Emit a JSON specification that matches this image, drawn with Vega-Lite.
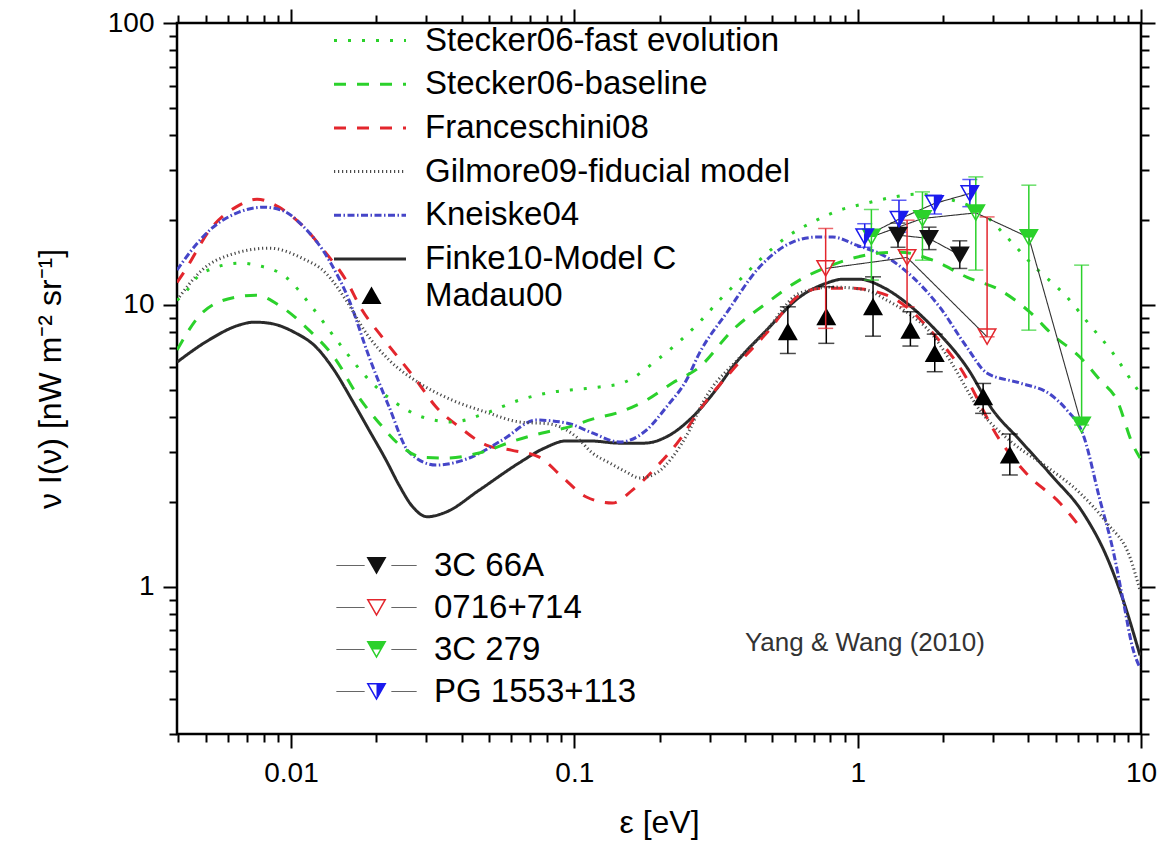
{
"$schema":"https://vega.github.io/schema/vega-lite/v6.json",
"width":964,"height":711,
"autosize":{"type":"none"},
"padding":{"left":177,"top":23,"right":28,"bottom":111},
"background":"white",
"config":{
 "view":{"stroke":"black","strokeWidth":2.5},
 "font":"Liberation Sans",
 "axis":{"grid":false,"domain":false,"tickColor":"black","tickWidth":2,"labelFont":"Liberation Sans","labelColor":"black","titleFont":"Liberation Sans","titleColor":"black","titleFontWeight":"normal","labelFlush":false,"labelOverlap":false,"labelBound":false},
 "legend":{"labelFont":"Liberation Sans","labelColor":"black","labelLimit":0}
},
"datasets":{
 "models":[
 {"m":"Finke10-Model C","E":0.00396,"v":6.26},{"m":"Finke10-Model C","E":0.00513,"v":7.5},{"m":"Finke10-Model C","E":0.00655,"v":8.47},{"m":"Finke10-Model C","E":0.0074,"v":8.68},{"m":"Finke10-Model C","E":0.00836,"v":8.61},{"m":"Finke10-Model C","E":0.01025,"v":8.0},{"m":"Finke10-Model C","E":0.01226,"v":7.08},{"m":"Finke10-Model C","E":0.01419,"v":5.87},{"m":"Finke10-Model C","E":0.01642,"v":4.59},{"m":"Finke10-Model C","E":0.01887,"v":3.59},{"m":"Finke10-Model C","E":0.02166,"v":2.81},{"m":"Finke10-Model C","E":0.02408,"v":2.29},{"m":"Finke10-Model C","E":0.02677,"v":1.93},{"m":"Finke10-Model C","E":0.03025,"v":1.77},{"m":"Finke10-Model C","E":0.03531,"v":1.84},{"m":"Finke10-Model C","E":0.04616,"v":2.2},{"m":"Finke10-Model C","E":0.06393,"v":2.75},{"m":"Finke10-Model C","E":0.07834,"v":3.1},{"m":"Finke10-Model C","E":0.09372,"v":3.29},{"m":"Finke10-Model C","E":0.113,"v":3.29},{"m":"Finke10-Model C","E":0.1442,"v":3.23},{"m":"Finke10-Model C","E":0.1768,"v":3.23},{"m":"Finke10-Model C","E":0.2114,"v":3.4},{"m":"Finke10-Model C","E":0.2612,"v":4.0},{"m":"Finke10-Model C","E":0.3254,"v":5.19},{"m":"Finke10-Model C","E":0.3616,"v":6.01},{"m":"Finke10-Model C","E":0.477,"v":8.13},{"m":"Finke10-Model C","E":0.6237,"v":10.65},{"m":"Finke10-Model C","E":0.7772,"v":11.94},{"m":"Finke10-Model C","E":0.885,"v":12.33},{"m":"Finke10-Model C","E":1.016,"v":12.33},{"m":"Finke10-Model C","E":1.225,"v":11.56},{"m":"Finke10-Model C","E":1.49,"v":10.14},{"m":"Finke10-Model C","E":1.841,"v":8.34},{"m":"Finke10-Model C","E":2.427,"v":6.01},{"m":"Finke10-Model C","E":2.999,"v":4.23},{"m":"Finke10-Model C","E":3.736,"v":3.31},{"m":"Finke10-Model C","E":4.887,"v":2.45},{"m":"Finke10-Model C","E":6.237,"v":1.83},{"m":"Finke10-Model C","E":7.585,"v":1.27},{"m":"Finke10-Model C","E":8.636,"v":0.9},{"m":"Finke10-Model C","E":9.92,"v":0.57},
 {"m":"Franceschini08","E":0.00396,"v":12.0},{"m":"Franceschini08","E":0.00419,"v":13.06},{"m":"Franceschini08","E":0.00526,"v":18.86},{"m":"Franceschini08","E":0.00639,"v":22.21},{"m":"Franceschini08","E":0.00759,"v":23.7},{"m":"Franceschini08","E":0.00907,"v":22.21},{"m":"Franceschini08","E":0.01094,"v":19.17},{"m":"Franceschini08","E":0.01329,"v":15.26},{"m":"Franceschini08","E":0.01564,"v":12.24},{"m":"Franceschini08","E":0.01782,"v":9.58},{"m":"Franceschini08","E":0.02098,"v":7.68},{"m":"Franceschini08","E":0.02765,"v":5.41},{"m":"Franceschini08","E":0.03253,"v":4.34},{"m":"Franceschini08","E":0.03924,"v":3.69},{"m":"Franceschini08","E":0.04887,"v":3.18},{"m":"Franceschini08","E":0.05989,"v":3.05},{"m":"Franceschini08","E":0.07521,"v":2.88},{"m":"Franceschini08","E":0.09071,"v":2.45},{"m":"Franceschini08","E":0.1103,"v":2.08},{"m":"Franceschini08","E":0.1362,"v":1.98},{"m":"Franceschini08","E":0.1603,"v":2.2},{"m":"Franceschini08","E":0.1949,"v":2.66},{"m":"Franceschini08","E":0.235,"v":3.31},{"m":"Franceschini08","E":0.2764,"v":4.23},{"m":"Franceschini08","E":0.3616,"v":5.87},{"m":"Franceschini08","E":0.477,"v":7.94},{"m":"Franceschini08","E":0.6237,"v":10.82},{"m":"Franceschini08","E":0.7521,"v":11.46},{"m":"Franceschini08","E":0.937,"v":11.46},{"m":"Franceschini08","E":1.266,"v":10.82},{"m":"Franceschini08","E":1.49,"v":9.81},{"m":"Franceschini08","E":1.841,"v":7.94},{"m":"Franceschini08","E":2.293,"v":6.01},{"m":"Franceschini08","E":3.176,"v":3.31},{"m":"Franceschini08","E":3.955,"v":2.51},{"m":"Franceschini08","E":5.173,"v":1.98},{"m":"Franceschini08","E":6.087,"v":1.63},
 {"m":"Kneiske04","E":0.00396,"v":13.28},{"m":"Kneiske04","E":0.00412,"v":14.06},{"m":"Kneiske04","E":0.00526,"v":18.71},{"m":"Kneiske04","E":0.00655,"v":21.32},{"m":"Kneiske04","E":0.00803,"v":22.21},{"m":"Kneiske04","E":0.00945,"v":21.49},{"m":"Kneiske04","E":0.01094,"v":19.17},{"m":"Kneiske04","E":0.01363,"v":14.4},{"m":"Kneiske04","E":0.01603,"v":10.39},{"m":"Kneiske04","E":0.01887,"v":6.53},{"m":"Kneiske04","E":0.0222,"v":4.34},{"m":"Kneiske04","E":0.02612,"v":3.0},{"m":"Kneiske04","E":0.03253,"v":2.7},{"m":"Kneiske04","E":0.04256,"v":2.86},{"m":"Kneiske04","E":0.05566,"v":3.31},{"m":"Kneiske04","E":0.07339,"v":3.9},{"m":"Kneiske04","E":0.09372,"v":3.81},{"m":"Kneiske04","E":0.1158,"v":3.51},{"m":"Kneiske04","E":0.1442,"v":3.26},{"m":"Kneiske04","E":0.1796,"v":3.59},{"m":"Kneiske04","E":0.2114,"v":4.34},{"m":"Kneiske04","E":0.2488,"v":5.41},{"m":"Kneiske04","E":0.2764,"v":6.74},{"m":"Kneiske04","E":0.3444,"v":9.35},{"m":"Kneiske04","E":0.4504,"v":13.61},{"m":"Kneiske04","E":0.5892,"v":16.69},{"m":"Kneiske04","E":0.7164,"v":17.39},{"m":"Kneiske04","E":0.816,"v":17.39},{"m":"Kneiske04","E":0.992,"v":16.28},{"m":"Kneiske04","E":1.266,"v":14.76},{"m":"Kneiske04","E":1.564,"v":12.54},{"m":"Kneiske04","E":1.949,"v":9.81},{"m":"Kneiske04","E":2.427,"v":7.08},{"m":"Kneiske04","E":2.856,"v":5.73},{"m":"Kneiske04","E":3.736,"v":5.28},{"m":"Kneiske04","E":4.77,"v":4.82},{"m":"Kneiske04","E":5.476,"v":4.23},{"m":"Kneiske04","E":6.237,"v":3.48},{"m":"Kneiske04","E":7.164,"v":2.03},{"m":"Kneiske04","E":7.962,"v":1.35},{"m":"Kneiske04","E":8.636,"v":0.9},{"m":"Kneiske04","E":9.37,"v":0.6},{"m":"Kneiske04","E":9.92,"v":0.515},
 {"m":"Gilmore09-fiducial model","E":0.00396,"v":10.39},{"m":"Gilmore09-fiducial model","E":0.00485,"v":13.28},{"m":"Gilmore09-fiducial model","E":0.00639,"v":15.26},{"m":"Gilmore09-fiducial model","E":0.00836,"v":15.89},{"m":"Gilmore09-fiducial model","E":0.01094,"v":14.64},{"m":"Gilmore09-fiducial model","E":0.01329,"v":12.95},{"m":"Gilmore09-fiducial model","E":0.01564,"v":10.39},{"m":"Gilmore09-fiducial model","E":0.01841,"v":7.94},{"m":"Gilmore09-fiducial model","E":0.0222,"v":6.37},{"m":"Gilmore09-fiducial model","E":0.02833,"v":5.28},{"m":"Gilmore09-fiducial model","E":0.03706,"v":4.59},{"m":"Gilmore09-fiducial model","E":0.04887,"v":4.16},{"m":"Gilmore09-fiducial model","E":0.06393,"v":3.84},{"m":"Gilmore09-fiducial model","E":0.0816,"v":3.78},{"m":"Gilmore09-fiducial model","E":0.1016,"v":3.4},{"m":"Gilmore09-fiducial model","E":0.1158,"v":2.98},{"m":"Gilmore09-fiducial model","E":0.1329,"v":2.75},{"m":"Gilmore09-fiducial model","E":0.1527,"v":2.55},{"m":"Gilmore09-fiducial model","E":0.1697,"v":2.43},{"m":"Gilmore09-fiducial model","E":0.1949,"v":2.53},{"m":"Gilmore09-fiducial model","E":0.222,"v":2.88},{"m":"Gilmore09-fiducial model","E":0.2549,"v":3.59},{"m":"Gilmore09-fiducial model","E":0.2833,"v":4.48},{"m":"Gilmore09-fiducial model","E":0.3074,"v":5.11},{"m":"Gilmore09-fiducial model","E":0.3616,"v":6.11},{"m":"Gilmore09-fiducial model","E":0.477,"v":8.13},{"m":"Gilmore09-fiducial model","E":0.6237,"v":11.0},{"m":"Gilmore09-fiducial model","E":0.816,"v":11.56},{"m":"Gilmore09-fiducial model","E":1.076,"v":11.28},{"m":"Gilmore09-fiducial model","E":1.266,"v":10.39},{"m":"Gilmore09-fiducial model","E":1.49,"v":9.42},{"m":"Gilmore09-fiducial model","E":1.841,"v":7.81},{"m":"Gilmore09-fiducial model","E":2.114,"v":6.37},{"m":"Gilmore09-fiducial model","E":2.698,"v":4.23},{"m":"Gilmore09-fiducial model","E":3.529,"v":3.23},{"m":"Gilmore09-fiducial model","E":4.655,"v":2.66},{"m":"Gilmore09-fiducial model","E":6.087,"v":2.15},{"m":"Gilmore09-fiducial model","E":7.585,"v":1.68},{"m":"Gilmore09-fiducial model","E":9.145,"v":1.27},{"m":"Gilmore09-fiducial model","E":9.92,"v":0.97},
 {"m":"Stecker06-baseline","E":0.00396,"v":6.91},{"m":"Stecker06-baseline","E":0.00409,"v":7.31},{"m":"Stecker06-baseline","E":0.00485,"v":9.35},{"m":"Stecker06-baseline","E":0.00639,"v":10.65},{"m":"Stecker06-baseline","E":0.00752,"v":10.82},{"m":"Stecker06-baseline","E":0.00929,"v":9.81},{"m":"Stecker06-baseline","E":0.01158,"v":8.13},{"m":"Stecker06-baseline","E":0.01443,"v":6.37},{"m":"Stecker06-baseline","E":0.01697,"v":4.86},{"m":"Stecker06-baseline","E":0.02046,"v":3.81},{"m":"Stecker06-baseline","E":0.02468,"v":3.13},{"m":"Stecker06-baseline","E":0.02904,"v":2.88},{"m":"Stecker06-baseline","E":0.03531,"v":2.86},{"m":"Stecker06-baseline","E":0.04616,"v":2.98},{"m":"Stecker06-baseline","E":0.06237,"v":3.31},{"m":"Stecker06-baseline","E":0.07707,"v":3.51},{"m":"Stecker06-baseline","E":0.09601,"v":3.69},{"m":"Stecker06-baseline","E":0.1158,"v":3.93},{"m":"Stecker06-baseline","E":0.1442,"v":4.16},{"m":"Stecker06-baseline","E":0.1796,"v":4.59},{"m":"Stecker06-baseline","E":0.222,"v":5.28},{"m":"Stecker06-baseline","E":0.2764,"v":6.01},{"m":"Stecker06-baseline","E":0.3616,"v":8.13},{"m":"Stecker06-baseline","E":0.477,"v":10.14},{"m":"Stecker06-baseline","E":0.6237,"v":12.24},{"m":"Stecker06-baseline","E":0.7772,"v":13.61},{"m":"Stecker06-baseline","E":0.9601,"v":14.64},{"m":"Stecker06-baseline","E":1.196,"v":15.26},{"m":"Stecker06-baseline","E":1.407,"v":15.38},{"m":"Stecker06-baseline","E":1.841,"v":14.4},{"m":"Stecker06-baseline","E":2.427,"v":12.54},{"m":"Stecker06-baseline","E":3.176,"v":11.28},{"m":"Stecker06-baseline","E":4.053,"v":9.42},{"m":"Stecker06-baseline","E":4.887,"v":7.81},{"m":"Stecker06-baseline","E":6.087,"v":6.53},{"m":"Stecker06-baseline","E":7.164,"v":5.41},{"m":"Stecker06-baseline","E":8.226,"v":4.59},{"m":"Stecker06-baseline","E":9.37,"v":3.18},{"m":"Stecker06-baseline","E":9.92,"v":2.86},
 {"m":"Stecker06-fast evolution","E":0.00396,"v":10.39},{"m":"Stecker06-fast evolution","E":0.00409,"v":10.65},{"m":"Stecker06-fast evolution","E":0.00485,"v":12.95},{"m":"Stecker06-fast evolution","E":0.00666,"v":14.06},{"m":"Stecker06-fast evolution","E":0.00752,"v":13.83},{"m":"Stecker06-fast evolution","E":0.0096,"v":12.54},{"m":"Stecker06-fast evolution","E":0.01187,"v":9.81},{"m":"Stecker06-fast evolution","E":0.01478,"v":7.31},{"m":"Stecker06-fast evolution","E":0.01887,"v":5.41},{"m":"Stecker06-fast evolution","E":0.0235,"v":4.48},{"m":"Stecker06-fast evolution","E":0.02904,"v":4.0},{"m":"Stecker06-fast evolution","E":0.03706,"v":3.84},{"m":"Stecker06-fast evolution","E":0.04887,"v":4.13},{"m":"Stecker06-fast evolution","E":0.06393,"v":4.59},{"m":"Stecker06-fast evolution","E":0.08362,"v":4.9},{"m":"Stecker06-fast evolution","E":0.1041,"v":5.02},{"m":"Stecker06-fast evolution","E":0.1226,"v":5.11},{"m":"Stecker06-fast evolution","E":0.1478,"v":5.28},{"m":"Stecker06-fast evolution","E":0.1997,"v":6.47},{"m":"Stecker06-fast evolution","E":0.2764,"v":8.68},{"m":"Stecker06-fast evolution","E":0.3254,"v":10.39},{"m":"Stecker06-fast evolution","E":0.3829,"v":12.24},{"m":"Stecker06-fast evolution","E":0.4504,"v":14.4},{"m":"Stecker06-fast evolution","E":0.5613,"v":17.39},{"m":"Stecker06-fast evolution","E":0.7164,"v":19.97},{"m":"Stecker06-fast evolution","E":0.8638,"v":21.67},{"m":"Stecker06-fast evolution","E":1.076,"v":22.94},{"m":"Stecker06-fast evolution","E":1.329,"v":24.09},{"m":"Stecker06-fast evolution","E":1.616,"v":24.7},{"m":"Stecker06-fast evolution","E":2.166,"v":23.51},{"m":"Stecker06-fast evolution","E":2.765,"v":21.14},{"m":"Stecker06-fast evolution","E":3.361,"v":17.39},{"m":"Stecker06-fast evolution","E":4.153,"v":13.83},{"m":"Stecker06-fast evolution","E":5.476,"v":10.65},{"m":"Stecker06-fast evolution","E":6.603,"v":8.47},{"m":"Stecker06-fast evolution","E":7.962,"v":6.74},{"m":"Stecker06-fast evolution","E":9.37,"v":5.28},{"m":"Stecker06-fast evolution","E":9.92,"v":4.86}
 ],
 "madau":[
 {"src":"Madau00","E":0.567,"v":8.02,"lo":6.72,"hi":9.84},{"src":"Madau00","E":0.775,"v":9.07,"lo":7.3,"hi":11.59},{"src":"Madau00","E":1.133,"v":9.84,"lo":7.74,"hi":12.57},{"src":"Madau00","E":1.535,"v":8.13,"lo":7.14,"hi":9.45},{"src":"Madau00","E":1.871,"v":6.72,"lo":5.79,"hi":7.87},{"src":"Madau00","E":2.772,"v":4.72,"lo":4.12,"hi":5.26},{"src":"Madau00","E":3.444,"v":2.93,"lo":2.49,"hi":3.48}
 ],
 "blazars":[
 {"src":"3C 66A","E":1.388,"v":17.67,"lo":16.0,"hi":19.5},{"src":"3C 66A","E":1.786,"v":17.2,"lo":15.7,"hi":18.86},{"src":"3C 66A","E":2.293,"v":15.01,"lo":13.46,"hi":16.87},
 {"src":"0716+714","E":0.771,"v":13.46,"lo":8.25,"hi":18.66},{"src":"0716+714","E":1.494,"v":14.73,"lo":9.84,"hi":19.97},{"src":"0716+714","E":2.863,"v":7.7,"lo":7.7,"hi":20.51},
 {"src":"3C 279","E":1.118,"v":17.42,"lo":12.24,"hi":21.79},{"src":"3C 279","E":1.693,"v":20.25,"lo":14.4,"hi":25.16},{"src":"3C 279","E":2.612,"v":21.2,"lo":13.28,"hi":28.44},{"src":"3C 279","E":4.019,"v":17.34,"lo":8.13,"hi":26.58},{"src":"3C 279","E":6.172,"v":3.745,"lo":3.745,"hi":13.83},
 {"src":"PG 1553+113","E":1.059,"v":17.45,"lo":16.0,"hi":19.4},{"src":"PG 1553+113","E":1.399,"v":20.13,"lo":18.1,"hi":23.5},{"src":"PG 1553+113","E":1.868,"v":22.89,"lo":21.0,"hi":24.5},{"src":"PG 1553+113","E":2.488,"v":24.84,"lo":22.3,"hi":27.84}
 ],
 "note":[{"E":2.811,"v":0.631,"t":"Yang & Wang (2010)"}]
},
"resolve":{
 "scale":{"color":"independent","shape":"independent","strokeDash":"independent","strokeWidth":"independent"},
 "axis":{"x":"independent","y":"independent"},
 "legend":{"color":"independent","shape":"independent","strokeDash":"independent","strokeWidth":"independent"}
},
"layer":[
 {"data":{"name":"models"},
  "mark":{"type":"line","clip":true,"interpolate":"monotone"},
  "encoding":{
   "x":{"field":"E","type":"quantitative","scale":{"type":"log","domain":[0.00396,10],"nice":false},
        "axis":{"orient":"bottom","values":[0.01,0.1,1,10],"format":"~g","tickSize":14,"labelFontSize":28,"labelPadding":11,"title":"ε [eV]","titleFontSize":32,"titlePadding":20}},
   "y":{"field":"v","type":"quantitative","scale":{"type":"log","domain":[0.3,100],"nice":false},
        "axis":{"orient":"left","values":[1,10,100],"format":"~g","tickSize":14,"labelFontSize":28,"labelPadding":9,"title":"ν I(ν) [nW m⁻² sr⁻¹]","titleFontSize":32,"titlePadding":40}},
   "color":{"field":"m","type":"nominal",
     "scale":{"domain":["Stecker06-fast evolution","Stecker06-baseline","Franceschini08","Gilmore09-fiducial model","Kneiske04","Finke10-Model C"],
              "range":["#2bd12b","#2bd12b","#e3262d","#4a4a4a","#4545c8","#2a2a2a"]},
     "legend":{"orient":"none","legendX":176.5,"legendY":1,"title":null,"symbolType":"M-3.6,0H3.6","symbolSize":400,"labelFontSize":33,"labelOffset":38.5,"rowPadding":9.7,"padding":0}},
   "strokeDash":{"field":"m","type":"nominal",
     "scale":{"domain":["Stecker06-fast evolution","Stecker06-baseline","Franceschini08","Gilmore09-fiducial model","Kneiske04","Finke10-Model C"],
              "range":[[3,11],[12,11],[12,11],[1.2,2.8],[7,2.5,1.5,2.5],[1,0]]},
     "legend":{"orient":"none","legendX":176.5,"legendY":1,"title":null,"symbolType":"M-3.6,0H3.6","symbolSize":400,"labelFontSize":33,"labelOffset":38.5,"rowPadding":9.7,"padding":0}},
   "strokeWidth":{"field":"m","type":"nominal",
     "scale":{"domain":["Stecker06-fast evolution","Stecker06-baseline","Franceschini08","Gilmore09-fiducial model","Kneiske04","Finke10-Model C"],
              "range":[3,3,3,1.1,1.1,1.1]},
     "legend":{"orient":"none","legendX":176.5,"legendY":1,"title":null,"symbolType":"M-3.6,0H3.6","symbolSize":400,"labelFontSize":33,"labelOffset":38.5,"rowPadding":9.7,"padding":0}}
  }},
 {"data":{"name":"madau"},
  "mark":{"type":"errorbar","ticks":true,"size":16,"thickness":1.5,"color":"black"},
  "encoding":{
   "x":{"field":"E","type":"quantitative","scale":{"type":"log","domain":[0.00396,10],"nice":false},"axis":null},
   "y":{"field":"lo","type":"quantitative","scale":{"type":"log","domain":[0.3,100],"nice":false},"axis":null},
   "y2":{"field":"hi"}
  }},
 {"data":{"name":"madau"},
  "mark":{"type":"point","filled":true,"size":400,"opacity":1,"fill":"black","strokeWidth":0},
  "encoding":{
   "x":{"field":"E","type":"quantitative","scale":{"type":"log","domain":[0.00396,10],"nice":false},
        "axis":{"orient":"bottom","values":[0.004,0.005,0.006,0.007,0.008,0.009,0.02,0.03,0.04,0.05,0.06,0.07,0.08,0.09,0.2,0.3,0.4,0.5,0.6,0.7,0.8,0.9,2,3,4,5,6,7,8,9],"labels":false,"tickSize":8,"title":null}},
   "y":{"field":"v","type":"quantitative","scale":{"type":"log","domain":[0.3,100],"nice":false},
        "axis":{"orient":"left","values":[0.3,0.4,0.5,0.6,0.7,0.8,0.9,2,3,4,5,6,7,8,9,20,30,40,50,60,70,80,90],"labels":false,"tickSize":8,"title":null}},
   "shape":{"field":"src","type":"nominal","scale":{"domain":["Madau00"],"range":["M-1,0.85L1,0.85L0,-0.9Z"]},
     "legend":{"orient":"none","legendX":178,"legendY":256,"title":null,"symbolSize":400,"labelFontSize":33,"labelOffset":37,"padding":0,"symbolStrokeWidth":0,"symbolFillColor":"black"}}
  }},
 {"data":{"name":"blazars"},
  "mark":{"type":"line","color":"#333333","strokeWidth":1.1},
  "encoding":{
   "x":{"field":"E","type":"quantitative","scale":{"type":"log","domain":[0.00396,10],"nice":false},
        "axis":{"orient":"top","values":[0.01,0.1,1,10],"labels":false,"tickSize":14,"title":null}},
   "y":{"field":"v","type":"quantitative","scale":{"type":"log","domain":[0.3,100],"nice":false},
        "axis":{"orient":"right","values":[1,10,100],"labels":false,"tickSize":14,"title":null}},
   "strokeDash":{"field":"src","type":"nominal","scale":{"domain":["PG 1553+113","3C 279","0716+714","3C 66A"],"range":[[1,0],[1,0],[1,0],[1,0]]},
     "legend":{"orient":"none","legendX":183,"legendY":526,"title":null,"symbolType":"M-4,0H-1.2M1.5,0H4","symbolSize":400,"symbolStrokeColor":"#333333","symbolStrokeWidth":1,"labelExpr":"' '","labelOpacity":0,"labelFontSize":33,"labelOffset":41,"rowPadding":8,"padding":0}}
  }},
 {"data":{"name":"blazars"},
  "mark":{"type":"errorbar","ticks":true,"size":15,"thickness":1.5},
  "encoding":{
   "x":{"field":"E","type":"quantitative","scale":{"type":"log","domain":[0.00396,10],"nice":false},"axis":null},
   "y":{"field":"lo","type":"quantitative","scale":{"type":"log","domain":[0.3,100],"nice":false},"axis":null},
   "y2":{"field":"hi"},
   "color":{"field":"src","type":"nominal","scale":{"domain":["3C 66A","0716+714","3C 279","PG 1553+113"],"range":["#111111","#e3262d","#2bd12b","#1a1aee"]},"legend":null}
  }},
 {"data":{"name":"blazars"},
  "mark":{"type":"point","filled":true,"size":400,"opacity":1,"strokeWidth":0},
  "encoding":{
   "x":{"field":"E","type":"quantitative","scale":{"type":"log","domain":[0.00396,10],"nice":false},
        "axis":{"orient":"top","values":[0.004,0.005,0.006,0.007,0.008,0.009,0.02,0.03,0.04,0.05,0.06,0.07,0.08,0.09,0.2,0.3,0.4,0.5,0.6,0.7,0.8,0.9,2,3,4,5,6,7,8,9],"labels":false,"tickSize":8,"title":null}},
   "y":{"field":"v","type":"quantitative","scale":{"type":"log","domain":[0.3,100],"nice":false},
        "axis":{"orient":"right","values":[0.3,0.4,0.5,0.6,0.7,0.8,0.9,2,3,4,5,6,7,8,9,20,30,40,50,60,70,80,90],"labels":false,"tickSize":8,"title":null}},
   "shape":{"field":"src","type":"nominal","scale":{"domain":["3C 66A","0716+714","3C 279","PG 1553+113"],
     "range":["M-1,-0.85L1,-0.85L0,0.9Z",
              "M-1,-0.85L1,-0.85L0,0.9ZM-0.74,-0.7L0,0.6L0.74,-0.7Z",
              "M-1,-0.85L1,-0.85L0,0.9ZM-0.74,-0.7L0,0.6L0.74,-0.7ZM-0.74,-0.7L0.74,-0.7L0.342,0L-0.342,0Z",
              "M-1,-0.85L1,-0.85L0,0.9ZM-0.74,-0.7L0,0.6L0.74,-0.7ZM0,-0.7L0.74,-0.7L0,0.6Z"]},
     "legend":{"orient":"none","legendX":183,"legendY":526,"title":null,"symbolSize":400,"symbolStrokeWidth":0,"labelFontSize":33,"labelOffset":41,"rowPadding":8,"padding":0}},
   "color":{"field":"src","type":"nominal","scale":{"domain":["3C 66A","0716+714","3C 279","PG 1553+113"],"range":["#111111","#e3262d","#2bd12b","#1a1aee"]},
     "legend":{"orient":"none","legendX":183,"legendY":526,"title":null,"symbolSize":400,"symbolStrokeWidth":0,"labelFontSize":33,"labelOffset":41,"rowPadding":8,"padding":0}}
  }},
 {"data":{"name":"note"},
  "mark":{"type":"text","align":"right","baseline":"middle","fontSize":26,"color":"#333333","font":"Liberation Sans"},
  "encoding":{
   "x":{"field":"E","type":"quantitative","scale":{"type":"log","domain":[0.00396,10],"nice":false},"axis":null},
   "y":{"field":"v","type":"quantitative","scale":{"type":"log","domain":[0.3,100],"nice":false},"axis":null},
   "text":{"field":"t"}
  }}
]
}
